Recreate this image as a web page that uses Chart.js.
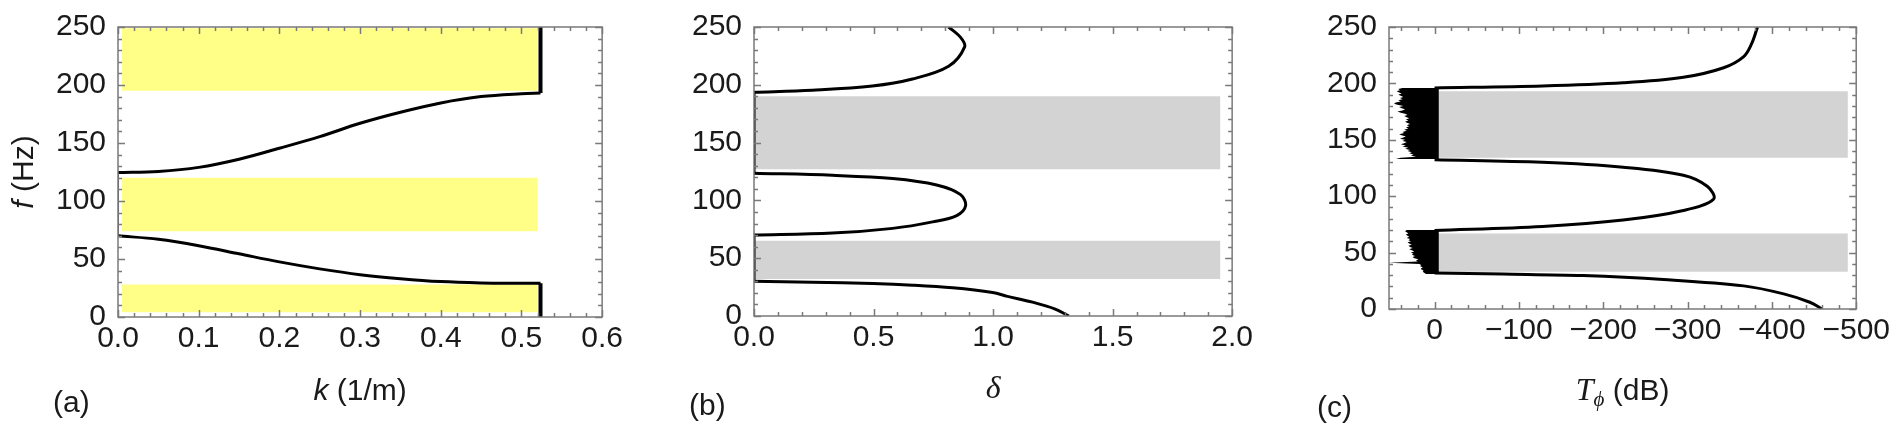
<!DOCTYPE html>
<html>
<head>
<meta charset="utf-8">
<script src="https://cdn.jsdelivr.net/npm/chart.js@4.4.1/dist/chart.umd.min.js"></script>
<style>
  html, body { margin: 0; padding: 0; background: #fff; }
  #wrap { position: relative; width: 1897px; height: 428px; overflow: hidden; }
  #wrap canvas { position: absolute; top: 0; }
  .tag { position: absolute; font: 30px 'Liberation Sans', Arial, sans-serif; color: #1a1a1a; line-height: 34px; }
</style>
</head>
<body>
<div id="wrap">
  <canvas id="chartA" width="630" height="428" style="left:0"></canvas>
  <canvas id="chartB" width="630" height="428" style="left:630px"></canvas>
  <canvas id="chartC" width="637" height="428" style="left:1260px"></canvas>
  <div class="tag" style="left:53px;top:385px">(a)</div>
  <div class="tag" style="left:689px;top:388px">(b)</div>
  <div class="tag" style="left:1317px;top:390px">(c)</div>
</div>
<script>
// ─── Shared ticks ─────────────────────────────────────────────────────────────
const fTicks = [0, 50, 100, 150, 200, 250];

// ─── Panel (a): dispersion f(k) ───────────────────────────────────────────────
const kTicks = [0, 0.1, 0.2, 0.3, 0.4, 0.5, 0.6];
const kLow = [0, 0.05, 0.1, 0.15, 0.2, 0.25, 0.3, 0.35, 0.4, 0.45, 0.5, 0.5236];
const fLow = [70, 67, 61.5, 54.5, 47.5, 41.5, 36.5, 33, 30.5, 29.4, 29.1, 29];
const kHigh = [0, 0.05, 0.1, 0.15, 0.2, 0.25, 0.3, 0.35, 0.4, 0.45, 0.5, 0.5236];
const fHigh = [124.5, 125.5, 129, 136, 145.5, 155.5, 167, 176.5, 184.5, 190, 192.5, 193];
const kEdge = 0.5236;
const edgeSpansA = [[0, 29], [193, 250]];     // Re(k) = pi/a inside gaps
const zeroSpanA = [70, 124.5];                // k = 0 segment
const yellowBands = [[4, 28], [74, 120], [195, 249]];
const yellowK = [0.005, 0.52];

// ─── Panel (b): attenuation delta(f) ──────────────────────────────────────────
const deltaTicks = [0, 0.5, 1, 1.5, 2];
const fB1 = [0, 6, 12, 17, 20.3, 24.4, 26.7, 28.1, 29.2, 30];
const dB1 = [1.317, 1.26, 1.165, 1.06, 0.998, 0.831, 0.664, 0.497, 0.244, 0];
const fB2 = [70, 71.7, 75.8, 81.4, 86.9, 95.3, 105, 113.3, 118.9, 121.7, 123.5];
const dB2 = [0, 0.328, 0.58, 0.747, 0.848, 0.885, 0.864, 0.764, 0.58, 0.328, 0];
const fB3 = [193.5, 195.3, 198.9, 205, 216, 232.8, 241, 250];
const dB3 = [0, 0.244, 0.495, 0.663, 0.814, 0.881, 0.864, 0.814];
const zeroSpansB = [[30, 70], [123.5, 193.5]];
const grayBandsB = [[32, 65], [127, 190]];
const grayDelta = [0, 1.95];

// ─── Panel (c): transmission T_phi(f) in dB ───────────────────────────────────
const tTicks = [0, -100, -200, -300, -400, -500];
const fC1 = [0, 6, 13.4, 20.5, 26.2, 29.6, 31, 32];
const tC1 = [-459.5, -445, -414, -366.6, -271.3, -176, -80.7, 0];
const fC2 = [69.5, 73.1, 78.8, 87.3, 97.3, 108.6, 118.6, 125.7, 130, 132.3];
const tC2 = [0, -128, -223.6, -295, -330.8, -323.7, -295, -223.6, -128, 0];
const fC3 = [196, 197.7, 200.5, 205.4, 213.9, 223.8, 235.2, 250];
const tC3 = [0, -128, -223.6, -295, -342.8, -366.6, -376, -383];
const grayBandsC = [[33, 67], [134, 193]];
const grayT = [0, -490];
// noisy pass-band transmission, left edge of the black region (1 Hz steps)
const noiseLowF0 = 31;
const noiseLowT = [10, 12, 14, 13, 15, 16, 14, 17, 16, 18, 54, 20, 22, 19, 24, 26, 23, 27, 25, 28,
                   24, 27, 30, 26, 29, 31, 27, 30, 32, 28, 31, 29, 33, 30, 32, 34, 31, 33, 35, 33];
const noiseHighF0 = 133;
const noiseHighT = [46, 40, 22, 28, 25, 30, 27, 32, 29, 35, 31, 38, 34, 40, 36, 33, 38, 35, 41, 37,
                    34, 39, 42, 36, 38, 33, 36, 31, 34, 30, 33, 29, 32, 35, 31, 34, 30, 33, 36, 32,
                    35, 40, 44, 38, 35, 39, 42, 37, 44, 48, 46, 40, 43, 38, 41, 37, 40, 43, 39, 42,
                    45, 41, 43, 38];
const noiseRight = -5;

// ─── Helpers ──────────────────────────────────────────────────────────────────
const FONT = "'Liberation Sans', Arial, sans-serif";
const INK = '#1a1a1a';
const TICK_FONT = { family: FONT, size: 30, lineHeight: 1 };

const pts = (xs, ys) => xs.map((x, i) => ({ x, y: ys[i] }));
const ptsFY = (fs, vs) => fs.map((f, i) => ({ x: vs[i], y: f }));

function curve(data, width = 3, color = '#000') {
    return { data, showLine: true, borderColor: color, borderWidth: width, pointRadius: 0, tension: 0.35, fill: false, order: 0 };
}
function shape(data, color, order) {
    return { data, showLine: true, borderWidth: 0, borderColor: 'rgba(0,0,0,0)', backgroundColor: color, pointRadius: 0, tension: 0, fill: 'shape', order };
}
function band(lo, hi, x0, x1, color) {
    return shape([{ x: x0, y: lo }, { x: x1, y: lo }, { x: x1, y: hi }, { x: x0, y: hi }, { x: x0, y: lo }], color, 5);
}
// black region: jagged left edge, straight right edge
function noiseShape(f0, lefts, right) {
    const out = lefts.map((t, i) => ({ x: t, y: f0 + i }));
    out.push({ x: right, y: f0 + lefts.length - 1 }, { x: right, y: f0 }, { x: lefts[0], y: f0 });
    return out;
}
function minorValues(min, max, step) {
    const out = [];
    const lo = Math.ceil(Math.min(min, max) / step - 1e-9), hi = Math.floor(Math.max(min, max) / step + 1e-9);
    for (let i = lo; i <= hi; i++) out.push(+(i * step).toFixed(6));
    return out;
}

// frame on four sides with inward ticks (Mathematica style)
const frameTicks = {
    id: 'frameTicks',
    afterDatasetsDraw(chart, args, o) {
        const { ctx, chartArea: a, scales: { x, y } } = chart;
        ctx.save();
        ctx.strokeStyle = '#7a7a7a';
        ctx.lineWidth = 1.5;
        ctx.beginPath();
        const seg = (x1, y1, x2, y2) => { ctx.moveTo(x1, y1); ctx.lineTo(x2, y2); };
        const xMaj = o.xMajor.map(v => +v.toFixed(6));
        minorValues(x.min, x.max, o.xStep).forEach(v => {
            const len = xMaj.includes(v) ? 7 : 4;
            const px = Math.round(x.getPixelForValue(v)) + 0.5;
            seg(px, a.bottom, px, a.bottom - len);
            seg(px, a.top, px, a.top + len);
        });
        minorValues(y.min, y.max, o.yStep).forEach(v => {
            const len = o.yMajor.includes(v) ? 7 : 4;
            const py = Math.round(y.getPixelForValue(v)) + 0.5;
            seg(a.left, py, a.left + len, py);
            seg(a.right, py, a.right - len, py);
        });
        ctx.stroke();
        ctx.strokeRect(a.left, a.top, a.right - a.left, a.bottom - a.top);
        ctx.restore();
    }
};

// axis titles with italic symbols
const richTitles = {
    id: 'richTitles',
    afterDraw(chart, args, o) {
        const { ctx, chartArea: a } = chart;
        (o.items || []).forEach(item => {
            ctx.save();
            const cx = item.x === 'center' ? (a.left + a.right) / 2 : item.x;
            const cy = item.y === 'center' ? (a.top + a.bottom) / 2 : item.y;
            ctx.translate(cx, cy);
            if (item.rotate) ctx.rotate(item.rotate);
            ctx.textBaseline = 'middle';
            ctx.fillStyle = INK;
            let w = 0;
            const parts = item.parts.map(p => {
                const font = `${p.italic ? 'italic ' : ''}${p.size || 30}px ${p.serif ? "'Liberation Serif', serif" : FONT}`;
                ctx.font = font;
                const pw = ctx.measureText(p.t).width;
                w += pw;
                return { ...p, font, pw };
            });
            let px = -w / 2;
            parts.forEach(p => { ctx.font = p.font; ctx.fillText(p.t, px, p.dy || 0); px += p.pw; });
            ctx.restore();
        });
    }
};

function axisX(min, max, ticks, fmt, height, reverse = false) {
    return {
        type: 'linear', min, max, reverse,
        afterBuildTicks: s => { s.ticks = ticks.map(v => ({ value: v })); },
        afterFit: s => { s.height = height; },
        grid: { display: false, drawTicks: false },
        border: { display: false },
        ticks: { font: TICK_FONT, color: INK, padding: 7, maxRotation: 0, autoSkip: false, callback: fmt }
    };
}
function axisF(width) {
    return {
        type: 'linear', min: 0, max: 250,
        afterBuildTicks: s => { s.ticks = fTicks.map(v => ({ value: v })); },
        afterFit: s => { s.width = width; },
        grid: { display: false, drawTicks: false },
        border: { display: false },
        ticks: { font: TICK_FONT, color: INK, padding: 12, autoSkip: false, callback: v => String(v) }
    };
}
function baseOptions(padding, xScale, yScale, ticksOpt, titles) {
    return {
        responsive: false, animation: false, devicePixelRatio: 1,
        layout: { padding },
        plugins: { legend: { display: false }, tooltip: { enabled: false }, frameTicks: ticksOpt, richTitles: { items: titles } },
        scales: { x: xScale, y: yScale }
    };
}

// ─── Build charts ─────────────────────────────────────────────────────────────
function renderPanelA() {
    const datasets = [
        curve(pts(kLow, fLow)),
        curve(pts(kHigh, fHigh)),
        ...edgeSpansA.map(s => curve(pts([kEdge, kEdge], s), 4)),
        curve(pts([0, 0], zeroSpanA), 2, '#555'),
        ...yellowBands.map(b => band(b[0], b[1], yellowK[0], yellowK[1], 'rgb(255,255,135)'))
    ];
    new Chart(document.getElementById('chartA'), {
        type: 'scatter',
        data: { datasets },
        options: baseOptions({ left: 0, top: 16, right: 27, bottom: 0 },
            axisX(0, 0.6, kTicks, v => v.toFixed(1), 111),
            axisF(118),
            { xMajor: kTicks, xStep: 0.02, yMajor: fTicks, yStep: 10 },
            [
                { x: 'center', y: 392, parts: [{ t: 'k', italic: true }, { t: ' (1/m)' }] },
                { x: 25, y: 'center', rotate: -Math.PI / 2, parts: [{ t: 'f', italic: true }, { t: ' (Hz)' }] }
            ]),
        plugins: [frameTicks, richTitles]
    });
}

function renderPanelB() {
    const datasets = [
        curve(ptsFY(fB1, dB1)),
        curve(ptsFY(fB2, dB2)),
        curve(ptsFY(fB3, dB3)),
        ...zeroSpansB.map(s => curve(pts([0, 0], s), 3)),
        ...grayBandsB.map(b => band(b[0], b[1], grayDelta[0], grayDelta[1], 'rgb(211,211,211)'))
    ];
    new Chart(document.getElementById('chartB'), {
        type: 'scatter',
        data: { datasets },
        options: baseOptions({ left: 0, top: 16, right: 20, bottom: 0 },
            axisX(0, 2, deltaTicks, v => v.toFixed(1), 112),
            axisF(124),
            { xMajor: deltaTicks, xStep: 0.1, yMajor: fTicks, yStep: 10 },
            [{ x: 'center', y: 390, parts: [{ t: 'δ', italic: true, serif: true, size: 32 }] }]),
        plugins: [frameTicks, richTitles]
    });
}

function renderPanelC() {
    const datasets = [
        curve(ptsFY(fC1, tC1)),
        curve(ptsFY(fC2, tC2)),
        curve(ptsFY(fC3, tC3)),
        shape(noiseShape(noiseLowF0, noiseLowT, noiseRight), '#000', 1),
        shape(noiseShape(noiseHighF0, noiseHighT, noiseRight), '#000', 1),
        ...grayBandsC.map(b => band(b[0], b[1], grayT[0], grayT[1], 'rgb(211,211,211)'))
    ];
    new Chart(document.getElementById('chartC'), {
        type: 'scatter',
        data: { datasets },
        options: baseOptions({ left: 0, top: 16, right: 35, bottom: 0 },
            axisX(-500, 54, tTicks, v => (v === 0 ? '0' : '\u2212' + Math.abs(v)), 119, true),
            axisF(129),
            { xMajor: tTicks, xStep: 20, yMajor: fTicks, yStep: 10 },
            [{ x: 'center', y: 392, parts: [{ t: 'T', italic: true, serif: true, size: 32 }, { t: 'ϕ', italic: true, serif: true, size: 21, dy: 8 }, { t: ' (dB)' }] }]),
        plugins: [frameTicks, richTitles]
    });
}

renderPanelA();
renderPanelB();
renderPanelC();
</script>
</body>
</html>
